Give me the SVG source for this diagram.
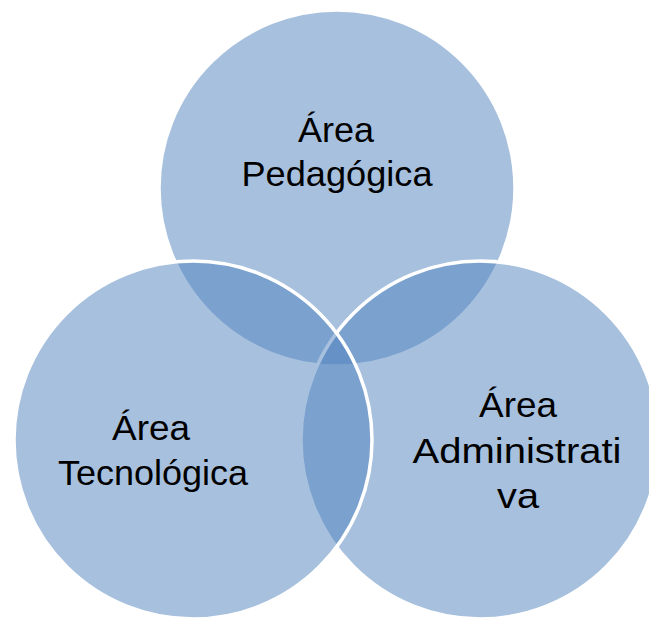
<svg xmlns="http://www.w3.org/2000/svg" width="649" height="619" viewBox="0 0 649 619">
<style>
.c{fill:#4F81BD;fill-opacity:0.5;stroke:#FFFFFF;stroke-width:3.5}
.t{font-family:"Liberation Sans",Arial,sans-serif;font-size:35px;fill:#000000;text-anchor:middle}
</style>
<rect width="649" height="619" fill="#FFFFFF"/>
<g id="pedagogica">
<circle class="c" cx="337" cy="188" r="178"/>
</g>
<g id="administrativa">
<circle class="c" cx="480" cy="440" r="179"/>
</g>
<g id="tecnologica">
<circle class="c" cx="193" cy="440" r="179"/>
</g>
<g id="labels">
<text class="t" x="336" y="142" textLength="76" lengthAdjust="spacingAndGlyphs">Área</text>
<text class="t" x="337" y="186" textLength="191" lengthAdjust="spacingAndGlyphs">Pedagógica</text>
<text class="t" x="151" y="440" textLength="78" lengthAdjust="spacingAndGlyphs">Área</text>
<text class="t" x="153" y="485" textLength="190" lengthAdjust="spacingAndGlyphs">Tecnológica</text>
<text class="t" x="518" y="417" textLength="78" lengthAdjust="spacingAndGlyphs">Área</text>
<text class="t" x="517" y="463" textLength="209" lengthAdjust="spacingAndGlyphs">Administrati</text>
<text class="t" x="518" y="508" textLength="42" lengthAdjust="spacingAndGlyphs">va</text>
</g>
<g id="connectors"/>
</svg>
